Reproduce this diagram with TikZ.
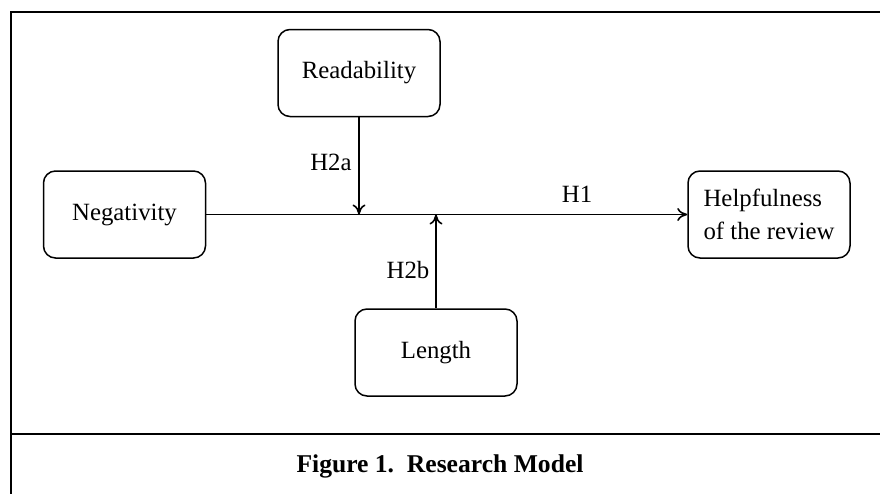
\documentclass[tikz,border=0pt]{standalone}
\usepackage{fontspec}
\setmainfont{Liberation Serif}
\usetikzlibrary{arrows.meta}
\begin{document}
\begin{tikzpicture}[x=0.5pt,y=-0.5pt,
 box/.style={draw, line width=0.75pt, rounded corners=6pt, minimum width=81pt, minimum height=43.5pt, inner sep=0pt, font=\fontsize{12.4}{16.5}\selectfont},
 conn/.style={line width=0.8pt, -{To[length=5pt,width=6.5pt]}},
 lab/.style={inner sep=0pt, font=\fontsize{12.4}{14.2}\selectfont},
 frame/.style={line width=1.3pt}]
\useasboundingbox (0,0) rectangle (880,494);
% frame
\coordinate (ftl) at (11,12);
\coordinate (ftr) at (880,12);
\coordinate (fbl) at (11,494);
\coordinate (fml) at (11,434);
\coordinate (fmr) at (880,434);
\draw[frame] (ftr) -- (ftl) -- (fbl);
\draw[frame] (fml) -- (fmr);
% boxes
\node[box] (read) at (359,73) {Readability};
\node[box] (neg) at (124.5,214.5) {Negativity};
\node[box, align=left] (help) at (769,214.5) {Helpfulness\\of the review};
\node[box] (len) at (436,352.5) {Length};
% connectors
\coordinate (j1) at (read.south |- neg.east);
\coordinate (j2) at (len.north |- neg.east);
\draw[conn] (neg.east) -- (help.west);
\draw[conn] (read.south) -- (j1);
\draw[conn] (len.north) -- (j2);
% labels
\node[lab] (h1) at (577,194) {H1};
\node[lab] (h2a) at (331,162) {H2a};
\node[lab] (h2b) at (408,270) {H2b};
% caption
\node[inner sep=0pt, font=\bfseries\fontsize{12.8}{14.2}\selectfont] (cap) at (440,466) {Figure 1.\ \ Research Model};
\end{tikzpicture}
\end{document}
